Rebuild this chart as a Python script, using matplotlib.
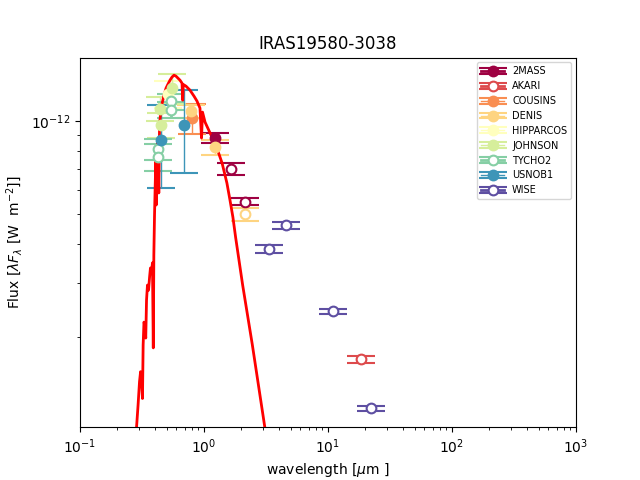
import matplotlib
matplotlib.use("Agg")

import matplotlib.pyplot as plt
import numpy as np
from matplotlib.container import ErrorbarContainer
from matplotlib.legend_handler import HandlerErrorbar


TITLE = "IRAS19580-3038"

# MODEL SED (wavelength in micron, flux in 1e-12 W m^-2)
model_wave = [0.283, 0.294, 0.302, 0.308, 0.313, 0.319, 0.323, 0.328, 0.334, 0.339,
              0.344, 0.350, 0.357, 0.364, 0.370, 0.377, 0.384, 0.390, 0.394, 0.399,
              0.405, 0.409, 0.412, 0.418, 0.426, 0.432, 0.438, 0.450, 0.458, 0.476,
              0.494, 0.512, 0.532, 0.552, 0.573, 0.594, 0.617, 0.640, 0.665, 0.673,
              0.681, 0.716, 0.771, 0.831, 0.878, 0.928, 0.955, 0.973, 1.02, 1.12,
              1.27, 1.40, 1.53, 1.62, 1.71, 1.80, 2.05, 2.45, 3.10, 3.22]
model_flux = [0.097, 0.121, 0.144, 0.155, 0.148, 0.127, 0.189, 0.224, 0.219, 0.199,
              0.264, 0.295, 0.284, 0.313, 0.335, 0.325, 0.348, 0.185, 0.369, 0.496,
              0.644, 0.747, 0.535, 0.804, 0.867, 0.585, 0.969, 1.099, 1.132, 1.210,
              1.275, 1.313, 1.353, 1.384, 1.404, 1.394, 1.373, 1.353, 1.323, 1.166,
              1.310, 1.294, 1.256, 1.201, 1.158, 1.099, 0.880, 1.067, 0.990, 0.913,
              0.817, 0.730, 0.630, 0.555, 0.489, 0.420, 0.295, 0.190, 0.102, 0.093]

# PHOTOMETRY (wavelength in micron, flux and error in 1e-12 W m^-2)
catalogues = ["2MASS", "AKARI", "COUSINS", "DENIS", "HIPPARCOS",
              "JOHNSON", "TYCHO2", "USNOB1", "WISE"]

twomass_wave = [1.235, 1.662, 2.159]
twomass_flux = [0.883, 0.699, 0.548]
twomass_err = [0.033, 0.032, 0.014]
twomass_fit = [True, False, False]

akari_wave = [18.4]
akari_flux = [0.170]
akari_err = [0.0047]
akari_fit = [False]

cousins_wave = [0.796]
cousins_flux = [1.02]
cousins_err = [0.11]
cousins_fit = [True]

denis_wave = [0.791, 1.228, 2.145]
denis_flux = [1.075, 0.823, 0.500]
denis_err = [0.05, 0.045, 0.025]
denis_fit = [True, True, False]

hipparcos_wave = [0.517]
hipparcos_flux = [1.22]
hipparcos_err = [0.12]
hipparcos_fit = [True]

johnson_wave = [0.549, 0.442, 0.448]
johnson_flux = [1.275, 1.096, 0.969]
johnson_err = [0.14, 0.10, 0.09]
johnson_fit = [True, True, True]

tycho_wave = [0.426, 0.426, 0.542, 0.542]
tycho_flux = [0.810, 0.764, 1.155, 1.085]
tycho_err = [0.065, 0.075, 0.07, 0.065]
tycho_fit = [False, False, False, False]

usno_wave = [0.447, 0.690]
usno_flux = [0.869, 0.969]
usno_err = [0.26, 0.29]
usno_fit = [True, True]

wise_wave = [3.35, 4.60, 11.0, 22.1]
wise_flux = [0.386, 0.461, 0.243, 0.118]
wise_err = [0.011, 0.012, 0.0045, 0.0024]
wise_fit = [False, False, False, False]

photometry = {
    "2MASS": (twomass_wave, twomass_flux, twomass_err, twomass_fit),
    "AKARI": (akari_wave, akari_flux, akari_err, akari_fit),
    "COUSINS": (cousins_wave, cousins_flux, cousins_err, cousins_fit),
    "DENIS": (denis_wave, denis_flux, denis_err, denis_fit),
    "HIPPARCOS": (hipparcos_wave, hipparcos_flux, hipparcos_err, hipparcos_fit),
    "JOHNSON": (johnson_wave, johnson_flux, johnson_err, johnson_fit),
    "TYCHO2": (tycho_wave, tycho_flux, tycho_err, tycho_fit),
    "USNOB1": (usno_wave, usno_flux, usno_err, usno_fit),
    "WISE": (wise_wave, wise_flux, wise_err, wise_fit),
}

THICK = {"2MASS", "AKARI", "TYCHO2", "WISE"}
UNIT = 1e-12

fig, ax = plt.subplots(figsize=(6.4, 4.8))

colors = plt.cm.Spectral(np.linspace(0, 1, len(catalogues)))

for name, color in zip(catalogues, colors):
    wave, flux, err, fit = photometry[name]
    lw = 2 if name in THICK else 1
    for i, (w, f, e, used) in enumerate(zip(wave, flux, err, fit)):
        ax.errorbar([w], [f * UNIT], yerr=[e * UNIT], fmt="o-", color=color,
                    mfc=color if used else "white", mec=color, ms=7, mew=1.5,
                    lw=lw, elinewidth=lw, capsize=10, capthick=lw,
                    label=name if i == 0 else None)

ax.plot(model_wave, np.array(model_flux) * UNIT, color="red", lw=2)

ax.set_xscale("log")
ax.set_yscale("log")
ax.set_xlim(0.1, 1000)
ax.set_ylim(1.026e-13, 1.6e-12)

ax.set_title(TITLE)
ax.set_xlabel(r"wavelength [$\mu$m ]")
ax.set_ylabel(r"Flux [$\lambda F_\lambda$ [W  m$^{-2}$]]")
ax.legend(loc="upper right", fontsize=7, handlelength=2.4,
          handler_map={ErrorbarContainer: HandlerErrorbar(yerr_size=0.3)})

fig.savefig("out.png", dpi=100)
plt.close(fig)
